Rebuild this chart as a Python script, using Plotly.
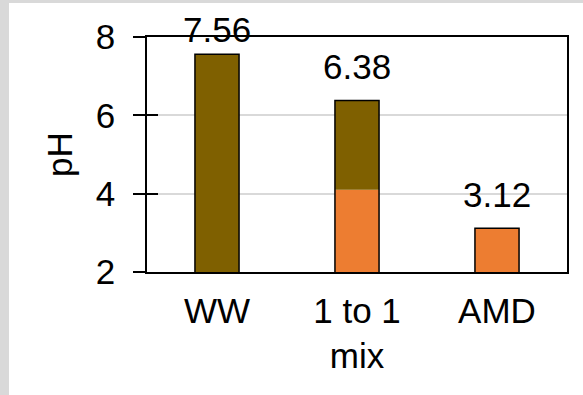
import plotly.graph_objects as go

categories = ["WW", "1 to 1<br>mix", "AMD"]
ww_part = [7.56, 2.28, None]      # brown (wastewater) segment heights
amd_part = [None, 4.10, 3.12]     # orange (AMD) segment heights
totals = [7.56, 6.38, 3.12]       # bar totals / labels
y_ticks = [2, 4, 6, 8]

BROWN = "#7F6000"
ORANGE = "#ED7D31"
FONT = "Liberation Sans, Arial, sans-serif"
FS = 35
W, H = 583, 395
L, R, T, B = 147, 16, 37, 123
label_shifts = [3, 12, 12]  # vertical offsets of value labels (px)

fig = go.Figure()
fig.add_trace(go.Bar(x=categories, y=amd_part, marker=dict(color=ORANGE, line=dict(width=0)),
                     showlegend=False, hoverinfo="skip"))
ww_base = [a if a is not None else 0 for a in amd_part]
fig.add_trace(go.Bar(x=categories, y=ww_part, base=ww_base, marker=dict(color=BROWN, line=dict(width=0)),
                     showlegend=False, hoverinfo="skip"))
fig.add_trace(go.Bar(x=categories, y=totals, marker=dict(color="rgba(0,0,0,0)", line=dict(color="black", width=1.5)),
                     showlegend=False, hoverinfo="skip"))

for c, t, s in zip(categories, totals, label_shifts):
    fig.add_annotation(x=c, y=t, text=f"{t:.2f}", showarrow=False, yanchor="bottom", yshift=s,
                       font=dict(size=FS, color="black", family=FONT))

pw = W - L - R
ph = H - T - B
fig.add_shape(type="rect", xref="paper", yref="paper", layer="below",
              x0=(9 - L) / pw, x1=(W + 10 - L) / pw,
              y0=-(B + 10) / ph, y1=(ph + T - 3) / ph,
              fillcolor="white", line=dict(width=0))

fig.update_layout(
    width=W, height=H, barmode="overlay", bargap=0.685,
    margin=dict(l=L, r=R, t=T, b=B, autoexpand=False),
    paper_bgcolor="#D9D9D9", plot_bgcolor="white",
    font=dict(family=FONT, size=FS, color="black"),
    xaxis=dict(showline=True, linecolor="black", linewidth=1.5, mirror=True, ticks="",
               tickfont=dict(size=FS), showgrid=False, automargin=False, ticklabelstandoff=7),
    yaxis=dict(range=[2, 8], tickvals=y_ticks, showline=True, linecolor="black", linewidth=1.5, mirror=True,
               ticks="outside", ticklen=12, tickwidth=1.5, tickcolor="black", ticklabelstandoff=11,
               showgrid=True, gridcolor="#D9D9D9", gridwidth=1.5, automargin=False,
               title=dict(text="pH", font=dict(size=FS), standoff=13), tickfont=dict(size=FS)),
    yaxis2=dict(range=[2, 8], tickvals=y_ticks, overlaying="y", side="left", showticklabels=False,
                ticks="inside", ticklen=11, tickwidth=1.5, tickcolor="black", showgrid=False, showline=False,
                automargin=False),
)
fig.add_trace(go.Scatter(x=[categories[0]], y=[None], yaxis="y2", showlegend=False, hoverinfo="skip"))

fig.write_html("out.html", config={"displayModeBar": False},
               post_script="document.body.style.margin='0';")
